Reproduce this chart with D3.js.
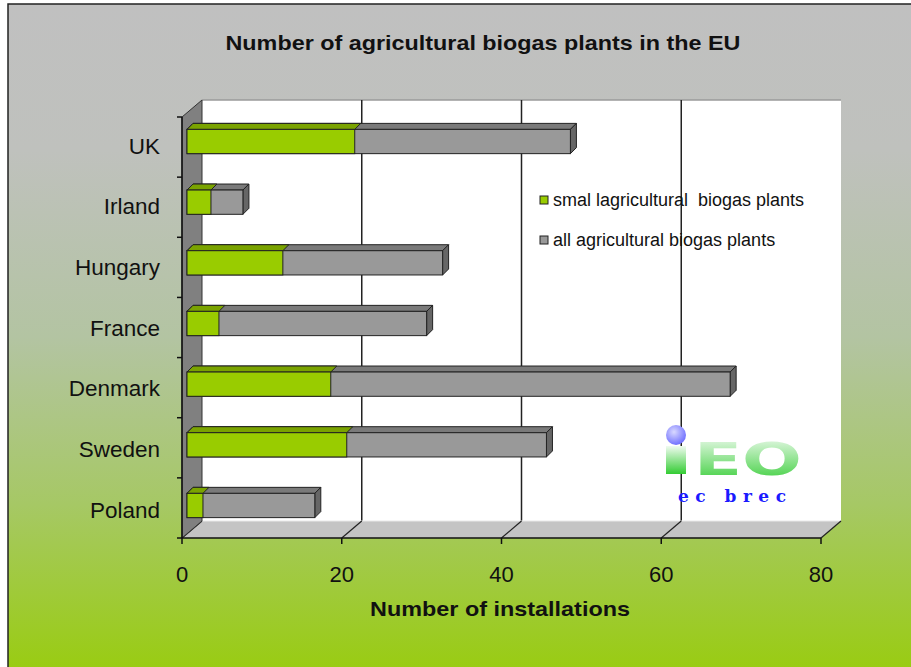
<!DOCTYPE html>
<html>
<head>
<meta charset="utf-8">
<script src="https://cdn.jsdelivr.net/npm/d3@7"></script>
<style>
  html, body { margin: 0; padding: 0; background: #fff; }
  svg { display: block; font-family: "Liberation Sans", Arial, sans-serif; }
</style>
</head>
<body>
<div id="chart"></div>
<script>
const categories = ["UK", "Irland", "Hungary", "France", "Denmark", "Sweden", "Poland"];
const smallPlants = [21, 3, 12, 4, 18, 20, 2];
const allPlants = [48, 7, 32, 30, 68, 45, 16];
const xTicks = [0, 20, 40, 60, 80];
const seriesNames = ["smal lagricultural  biogas plants", "all agricultural biogas plants"];

const W = 911, H = 667;
// front plane of the 3d box and the wall depth
const plot = { left: 182, right: 821, top: 117, bottom: 538 };
const wall = { dx: 20, dy: -17 };
const barOff = { dx: 5, dy: -4 };
const barDepth = { dx: 6, dy: -6 };

const svg = d3.select("#chart").append("svg").attr("width", W).attr("height", H);
const defs = svg.append("defs");

const bg = defs.append("linearGradient").attr("id", "bg").attr("x1", 0).attr("y1", 0).attr("x2", 0).attr("y2", 1);
bg.append("stop").attr("offset", "0%").attr("stop-color", "#c0c0c0");
bg.append("stop").attr("offset", "22%").attr("stop-color", "#bfc1bd");
bg.append("stop").attr("offset", "50%").attr("stop-color", "#b3c4a2");
bg.append("stop").attr("offset", "75%").attr("stop-color", "#a6c865");
bg.append("stop").attr("offset", "100%").attr("stop-color", "#99cc11");

const lg = defs.append("linearGradient").attr("id", "logo").attr("x1", 0).attr("y1", 0).attr("x2", 0).attr("y2", 1);
lg.append("stop").attr("offset", "0%").attr("stop-color", "#f0fbf0");
lg.append("stop").attr("offset", "100%").attr("stop-color", "#33cc33");

const dg = defs.append("radialGradient").attr("id", "dot").attr("cx", "40%").attr("cy", "35%").attr("r", "70%");
dg.append("stop").attr("offset", "0%").attr("stop-color", "#d8d8ff");
dg.append("stop").attr("offset", "100%").attr("stop-color", "#6a6aff");

svg.append("rect").attr("x", 8).attr("y", 4).attr("width", W).attr("height", H)
  .attr("fill", "url(#bg)").attr("stroke", "#222").attr("stroke-width", 1.5);

const x = d3.scaleLinear().domain([0, 80]).range([plot.left, plot.right]);
const y = d3.scaleBand().domain(categories).range([plot.top, plot.bottom])
  .paddingInner(0.6).paddingOuter(0.27);

const pts = (arr) => arr.map((p) => p.join(",")).join(" ");

// back wall
svg.append("polygon")
  .attr("points", pts([
    [plot.left + wall.dx, plot.top + wall.dy], [x(80) + wall.dx, plot.top + wall.dy],
    [x(80) + wall.dx, plot.bottom + wall.dy], [plot.left + wall.dx, plot.bottom + wall.dy]]))
  .attr("fill", "#fff");
svg.append("line")
  .attr("x1", plot.left + wall.dx).attr("x2", x(80) + wall.dx)
  .attr("y1", plot.top + wall.dy).attr("y2", plot.top + wall.dy)
  .attr("stroke", "#9a9a9a").attr("stroke-width", 1.5);

// gridlines on the back wall
svg.append("g").selectAll("line").data(xTicks.filter((d) => d > 0 && d < 80)).join("line")
  .attr("x1", (d) => x(d) + wall.dx).attr("x2", (d) => x(d) + wall.dx)
  .attr("y1", plot.top + wall.dy).attr("y2", plot.bottom + wall.dy)
  .attr("stroke", "#222").attr("stroke-width", 1.5);

// floor
svg.append("polygon")
  .attr("points", pts([
    [plot.left, plot.bottom], [x(80), plot.bottom],
    [x(80) + wall.dx, plot.bottom + wall.dy], [plot.left + wall.dx, plot.bottom + wall.dy]]))
  .attr("fill", "#c4c4c4");
svg.append("line")
  .attr("x1", plot.left + wall.dx).attr("x2", x(80) + wall.dx)
  .attr("y1", plot.bottom + wall.dy).attr("y2", plot.bottom + wall.dy)
  .attr("stroke", "#e8e8e8").attr("stroke-width", 1);
svg.append("g").selectAll("line").data(xTicks).join("line")
  .attr("x1", (d) => x(d)).attr("x2", (d) => x(d) + wall.dx)
  .attr("y1", plot.bottom).attr("y2", plot.bottom + wall.dy)
  .attr("stroke", "#222").attr("stroke-width", 1.2);

// left wall
svg.append("polygon")
  .attr("points", pts([
    [plot.left, plot.top], [plot.left + wall.dx, plot.top + wall.dy],
    [plot.left + wall.dx, plot.bottom + wall.dy], [plot.left, plot.bottom]]))
  .attr("fill", "#808080").attr("stroke", "#333").attr("stroke-width", 1);

// axes
svg.append("line").attr("x1", plot.left).attr("x2", x(80)).attr("y1", plot.bottom).attr("y2", plot.bottom)
  .attr("stroke", "#111").attr("stroke-width", 1.5);
svg.append("line").attr("x1", plot.left).attr("x2", plot.left).attr("y1", plot.top).attr("y2", plot.bottom)
  .attr("stroke", "#111").attr("stroke-width", 1.5);
svg.append("g").selectAll("line").data(xTicks).join("line")
  .attr("x1", (d) => x(d)).attr("x2", (d) => x(d))
  .attr("y1", plot.bottom).attr("y2", plot.bottom + 6)
  .attr("stroke", "#111").attr("stroke-width", 1.5);
const catTicks = d3.range(categories.length + 1).map((i) => plot.top + i * (plot.bottom - plot.top) / categories.length);
svg.append("g").selectAll("line").data(catTicks).join("line")
  .attr("x1", plot.left - 5).attr("x2", plot.left)
  .attr("y1", (d) => d).attr("y2", (d) => d)
  .attr("stroke", "#111").attr("stroke-width", 1.5);

svg.append("g").selectAll("text").data(xTicks).join("text")
  .attr("x", (d) => x(d)).attr("y", plot.bottom + 44)
  .attr("text-anchor", "middle").attr("font-size", 22).attr("fill", "#111")
  .text((d) => d);

svg.append("g").selectAll("text").data(categories).join("text")
  .attr("x", 160).attr("y", (d) => y(d) + y.bandwidth() / 2)
  .attr("dy", "0.36em").attr("text-anchor", "end").attr("font-size", 22.5).attr("fill", "#111")
  .text((d) => d);

// bars
const rows = categories.map((c, i) => ({ cat: c, small: smallPlants[i], all: allPlants[i] }));
const bw = y.bandwidth();
const barG = svg.append("g").selectAll("g").data(rows).join("g");

function box(g, v, front, top, side) {
  const x0 = (d) => x(0) + barOff.dx;
  const x1 = (d) => x(v(d)) + barOff.dx;
  const y0 = (d) => y(d.cat) + barOff.dy;
  g.append("polygon")
    .attr("points", (d) => pts([
      [x0(d), y0(d)], [x0(d) + barDepth.dx, y0(d) + barDepth.dy],
      [x1(d) + barDepth.dx, y0(d) + barDepth.dy], [x1(d), y0(d)]]))
    .attr("fill", top).attr("stroke", "#222").attr("stroke-width", 1).attr("stroke-linejoin", "round");
  if (side) {
    g.append("polygon")
      .attr("points", (d) => pts([
        [x1(d), y0(d)], [x1(d) + barDepth.dx, y0(d) + barDepth.dy],
        [x1(d) + barDepth.dx, y0(d) + barDepth.dy + bw], [x1(d), y0(d) + bw]]))
      .attr("fill", side).attr("stroke", "#222").attr("stroke-width", 1).attr("stroke-linejoin", "round");
  }
  g.append("rect")
    .attr("x", x0).attr("y", y0)
    .attr("width", (d) => x1(d) - x0(d)).attr("height", bw)
    .attr("fill", front).attr("stroke", "#222").attr("stroke-width", 1);
}
box(barG, (d) => d.all, "#999999", "#7a7a7a", "#666666");
box(barG, (d) => d.small, "#99cc00", "#7aa300", null);

// legend
const legend = svg.append("g").attr("transform", "translate(540,196)");
const legItems = legend.selectAll("g").data(seriesNames).join("g")
  .attr("transform", (d, i) => `translate(0,${i * 40})`);
legItems.append("rect").attr("width", 8).attr("height", 8)
  .attr("fill", (d, i) => (i === 0 ? "#99cc00" : "#999999")).attr("stroke", "#222").attr("stroke-width", 1);
legItems.append("text").attr("x", 13).attr("y", 4).attr("dy", "0.36em")
  .attr("font-size", 18).attr("fill", "#111").style("white-space", "pre")
  .text((d) => d);

// logo
const logo = svg.append("g");
logo.append("rect").attr("x", 666).attr("y", 446).attr("width", 20).attr("height", 28).attr("fill", "url(#logo)");
logo.append("circle").attr("cx", 676).attr("cy", 435).attr("r", 10).attr("fill", "url(#dot)");
logo.append("text").attr("x", 694).attr("y", 475)
  .attr("font-family", "'DejaVu Sans', sans-serif").attr("font-weight", "bold").attr("font-size", 44)
  .attr("textLength", 108).attr("lengthAdjust", "spacingAndGlyphs")
  .attr("fill", "url(#logo)").text("EO");
logo.append("text").attr("x", 678).attr("y", 502)
  .attr("font-family", "'DejaVu Serif', 'Liberation Serif', serif").attr("font-weight", "bold").attr("font-size", 17)
  .attr("textLength", 108).attr("fill", "#1a1aff").text("ec brec");

// titles
svg.append("text").attr("x", 483).attr("y", 50).attr("text-anchor", "middle")
  .attr("font-size", 21).attr("font-weight", "bold").attr("fill", "#111")
  .attr("textLength", 515).attr("lengthAdjust", "spacingAndGlyphs")
  .text("Number of agricultural biogas plants in the EU");
svg.append("text").attr("x", 500).attr("y", 616).attr("text-anchor", "middle")
  .attr("font-size", 21).attr("font-weight", "bold").attr("fill", "#111")
  .attr("textLength", 260).attr("lengthAdjust", "spacingAndGlyphs")
  .text("Number of installations");
</script>
</body>
</html>
